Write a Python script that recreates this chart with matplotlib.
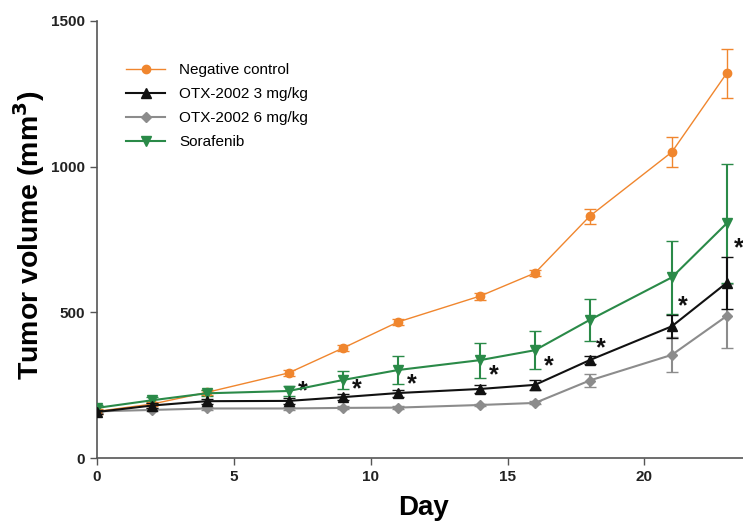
import matplotlib
matplotlib.use('Agg')
import matplotlib.pyplot as plt

plt.rcParams['font.family'] = ['Liberation Sans', 'DejaVu Sans']

# Data
days = [0, 2, 4, 7, 9, 11, 14, 16, 18, 21, 23]

neg_mean = [160, 185, 225, 292, 378, 467, 556, 635, 830, 1050, 1320]
neg_err = [8, 8, 8, 10, 10, 10, 12, 12, 26, 52, 84]

otx3_mean = [158, 180, 195, 196, 209, 223, 237, 251, 336, 452, 601]
otx3_err = [8, 8, 8, 10, 10, 12, 15, 18, 15, 40, 90]

otx6_mean = [160, 165, 170, 170, 172, 173, 182, 189, 266, 354, 487]
otx6_err = [5, 5, 5, 5, 5, 5, 5, 5, 24, 60, 110]

sora_mean = [172, 198, 222, 230, 268, 302, 336, 370, 474, 620, 805]
sora_err = [10, 10, 10, 18, 32, 48, 60, 65, 72, 125, 203]

# significance stars (day, value)
star_days = [7.5, 9.5, 11.5, 14.5, 16.5, 18.4, 21.4, 23.45]
star_vals = [228, 235, 252, 285, 316, 378, 522, 721]

fig = plt.figure(figsize=(7.43, 5.22), dpi=100)
ax = fig.add_axes([0.1306, 0.1226, 0.8694, 0.8372])

c1 = ax.errorbar(days, neg_mean, yerr=neg_err, color='#F0862E', marker='o', markersize=6,
                 linewidth=1.0, elinewidth=1.0, capsize=4, label='Negative control', zorder=3)
c2 = ax.errorbar(days, otx3_mean, yerr=otx3_err, color='#111111', marker='^', markersize=7,
                 linewidth=1.5, elinewidth=1.5, capsize=4, label='OTX-2002 3 mg/kg', zorder=4)
c3 = ax.errorbar(days, otx6_mean, yerr=otx6_err, color='#8C8C8C', marker='D', markersize=5,
                 linewidth=1.5, elinewidth=1.5, capsize=4, label='OTX-2002 6 mg/kg', zorder=2)
c4 = ax.errorbar(days, sora_mean, yerr=sora_err, color='#2A8A48', marker='v', markersize=7,
                 linewidth=1.5, elinewidth=1.5, capsize=4, label='Sorafenib', zorder=3)

for d, v in zip(star_days, star_vals):
    ax.text(d, v, '*', fontsize=18, fontweight='bold', ha='center', va='center', color='#111111')

ax.set_xlim(0, 23.6)
ax.set_ylim(0, 1500)
ax.set_xticks([0, 5, 10, 15, 20])
ax.set_yticks([0, 500, 1000, 1500])

for s in ['top', 'right']:
    ax.spines[s].set_visible(False)
for s in ['left', 'bottom']:
    ax.spines[s].set_color('#555555')
    ax.spines[s].set_linewidth(1.2)
ax.tick_params(colors='#555555', width=1.0, length=5, direction='out')
for lbl in ax.get_xticklabels() + ax.get_yticklabels():
    lbl.set_fontweight('bold')
    lbl.set_fontsize(11)
    lbl.set_color('#222222')

ax.set_xlabel('Day', fontsize=20, fontweight='bold')
ax.xaxis.set_label_coords(0.505, -0.084)
ax.set_ylabel('Tumor volume (mm$^\\mathbf{3}$)', fontsize=20.5, fontweight='bold')
ax.yaxis.set_label_coords(-0.077, 0.51)

handles = [c[0] for c in (c1, c2, c3, c4)]
labels = ['Negative control', 'OTX-2002 3 mg/kg', 'OTX-2002 6 mg/kg', 'Sorafenib']
ax.legend(handles, labels, loc='upper left', bbox_to_anchor=(0.023, 0.935), frameon=False,
          fontsize=11, handlelength=2.6, handletextpad=0.9, labelspacing=0.65)

plt.savefig('out.png', dpi=100)
plt.close()
